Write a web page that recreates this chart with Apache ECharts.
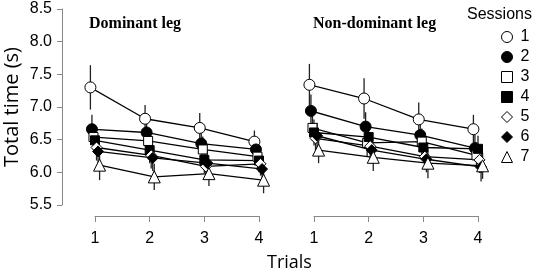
<!DOCTYPE html>
<html>
<head>
<meta charset="utf-8">
<title>Total time by session</title>
<script src="https://cdn.jsdelivr.net/npm/echarts@6/dist/echarts.min.js"></script>
<style>
  html, body { margin: 0; padding: 0; background: #fff; }
  #chart { width: 533px; height: 270px; }
</style>
</head>
<body>
<div id="chart"></div>
<script>
// data: mean total time (s) per trial, one row per session
var trials = [1, 2, 3, 4];
var sessions = ['1', '2', '3', '4', '5', '6', '7'];

var domMean = [
  [7.30, 6.82, 6.68, 6.47],
  [6.66, 6.61, 6.44, 6.35],
  [6.54, 6.48, 6.35, 6.24],
  [6.49, 6.34, 6.19, 6.18],
  [6.38, 6.26, 6.09, 6.13],
  [6.32, 6.22, 6.14, 6.05],
  [6.11, 5.93, 5.98, 5.88]
];
var domSD = [
  [0.34, 0.21, 0.23, 0.17],
  [0.22, 0.20, 0.20, 0.18],
  [0.20, 0.20, 0.20, 0.18],
  [0.20, 0.20, 0.20, 0.18],
  [0.20, 0.20, 0.20, 0.18],
  [0.20, 0.20, 0.20, 0.18],
  [0.23, 0.20, 0.19, 0.20]
];
var nonMean = [
  [7.34, 7.13, 6.81, 6.66],
  [6.94, 6.70, 6.57, 6.37],
  [6.68, 6.45, 6.47, 6.26],
  [6.61, 6.54, 6.38, 6.36],
  [6.52, 6.40, 6.24, 6.19],
  [6.56, 6.34, 6.20, 6.08],
  [6.34, 6.23, 6.14, 6.10]
];
var nonSD = [
  [0.32, 0.31, 0.26, 0.22],
  [0.25, 0.22, 0.22, 0.20],
  [0.20, 0.20, 0.20, 0.20],
  [0.20, 0.20, 0.20, 0.20],
  [0.20, 0.20, 0.20, 0.20],
  [0.20, 0.20, 0.20, 0.22],
  [0.20, 0.21, 0.23, 0.20]
];

var symbols = ['circle', 'circle', 'rect', 'rect', 'diamond', 'diamond', 'triangle'];
var fills = ['#fff', '#000', '#fff', '#000', '#fff', '#000', '#fff'];
var symSizes = [11, 11, 9, 9, 11, 11, 12];
var dodge = 0.028; // sessions are shifted a little sideways, as in the figure

var myChart = echarts.init(document.getElementById('chart'), null, { renderer: 'canvas' });

function errorBars(mean, sd, s, gi) {
  var d = [];
  for (var t = 0; t < trials.length; t++) {
    var x = trials[t] + (s - 3) * dodge;
    d.push([x, mean[s][t] - sd[s][t], mean[s][t] + sd[s][t]]);
  }
  return {
    type: 'custom',
    xAxisIndex: gi, yAxisIndex: gi,
    clip: false, silent: true, z: 1,
    encode: { x: 0, y: [1, 2] },
    data: d,
    renderItem: function (params, api) {
      var lo = api.coord([api.value(0), api.value(1)]);
      var hi = api.coord([api.value(0), api.value(2)]);
      return {
        type: 'line',
        shape: { x1: lo[0], y1: lo[1], x2: hi[0], y2: hi[1] },
        style: { stroke: '#222', lineWidth: 1.3 }
      };
    }
  };
}

function meanLine(mean, s, gi) {
  var d = [];
  for (var t = 0; t < trials.length; t++) {
    d.push([trials[t] + (s - 3) * dodge, mean[s][t]]);
  }
  return {
    name: sessions[s],
    type: 'line',
    xAxisIndex: gi, yAxisIndex: gi,
    clip: false, z: 2,
    data: d,
    symbol: symbols[s],
    symbolSize: symSizes[s],
    showAllSymbol: true,
    lineStyle: { color: '#000', width: 1.3 },
    itemStyle: { color: fills[s], borderColor: '#000', borderWidth: 1 }
  };
}

var series = [];
for (var s = 0; s < sessions.length; s++) {
  series.push(errorBars(domMean, domSD, s, 0));
  series.push(errorBars(nonMean, nonSD, s, 1));
}
for (var s = 0; s < sessions.length; s++) {
  series.push(meanLine(domMean, s, 0));
  series.push(meanLine(nonMean, s, 1));
}

var legendData = sessions.map(function (name, i) {
  return {
    name: name,
    icon: symbols[i],
    itemStyle: { color: fills[i], borderColor: '#000', borderWidth: 1 }
  };
});

function xAxisFor(gi) {
  return {
    type: 'value', gridIndex: gi,
    min: 1, max: 4, interval: 1,
    offset: 11,
    axisLine: { lineStyle: { color: '#888', width: 1 } },
    axisTick: { length: 6, lineStyle: { color: '#888' } },
    axisLabel: { color: '#000', fontSize: 16, fontFamily: 'Liberation Sans, Arial', margin: 15 },
    splitLine: { show: false }
  };
}

var option = {
  animation: false,
  backgroundColor: '#fff',
  title: [
    { text: 'Dominant leg', left: 84, top: 11,
      textStyle: { fontFamily: 'Liberation Serif, Times New Roman', fontWeight: 'bold', fontSize: 16, color: '#000' } },
    { text: 'Non-dominant leg', left: 308, top: 11,
      textStyle: { fontFamily: 'Liberation Serif, Times New Roman', fontWeight: 'bold', fontSize: 16, color: '#000' } },
    { text: 'Sessions', left: 462, top: 2,
      textStyle: { fontFamily: 'Liberation Sans, Arial', fontWeight: 'normal', fontSize: 16, color: '#000' } },
    { text: 'Trials', left: 262, top: 249,
      textStyle: { fontFamily: 'Open Sans, Noto Sans', fontWeight: 'normal', fontSize: 18, color: '#000' } }
  ],
  legend: {
    orient: 'vertical',
    left: 501, top: 27,
    padding: 0,
    itemWidth: 11, itemHeight: 11,
    itemGap: 0,
    data: legendData,
    selectedMode: false,
    textStyle: { fontFamily: 'Liberation Sans, Arial', fontSize: 16, color: '#000', lineHeight: 20, padding: [0, 0, 0, 3] }
  },
  grid: [
    { left: 95, top: 9, width: 164, height: 196 },
    { left: 314, top: 9, width: 164, height: 196 }
  ],
  xAxis: [xAxisFor(0), xAxisFor(1)],
  yAxis: [
    {
      type: 'value', gridIndex: 0,
      min: 5.5, max: 8.5, interval: 0.5,
      offset: 33,
      name: 'Total time (s)',
      nameLocation: 'middle',
      nameGap: 40,
      nameTextStyle: { fontFamily: 'Open Sans, Noto Sans', fontSize: 20, color: '#000' },
      axisLine: { show: true, lineStyle: { color: '#888', width: 1 } },
      axisTick: { show: true, length: 5, lineStyle: { color: '#888' } },
      axisLabel: {
        color: '#000', fontSize: 16, fontFamily: 'Liberation Sans, Arial', margin: 10,
        formatter: function (v) { return v.toFixed(1); }
      },
      splitLine: { show: false }
    },
    {
      type: 'value', gridIndex: 1,
      min: 5.5, max: 8.5, interval: 0.5,
      show: false,
      splitLine: { show: false }
    }
  ],
  series: series
};

myChart.setOption(option);
</script>
</body>
</html>
